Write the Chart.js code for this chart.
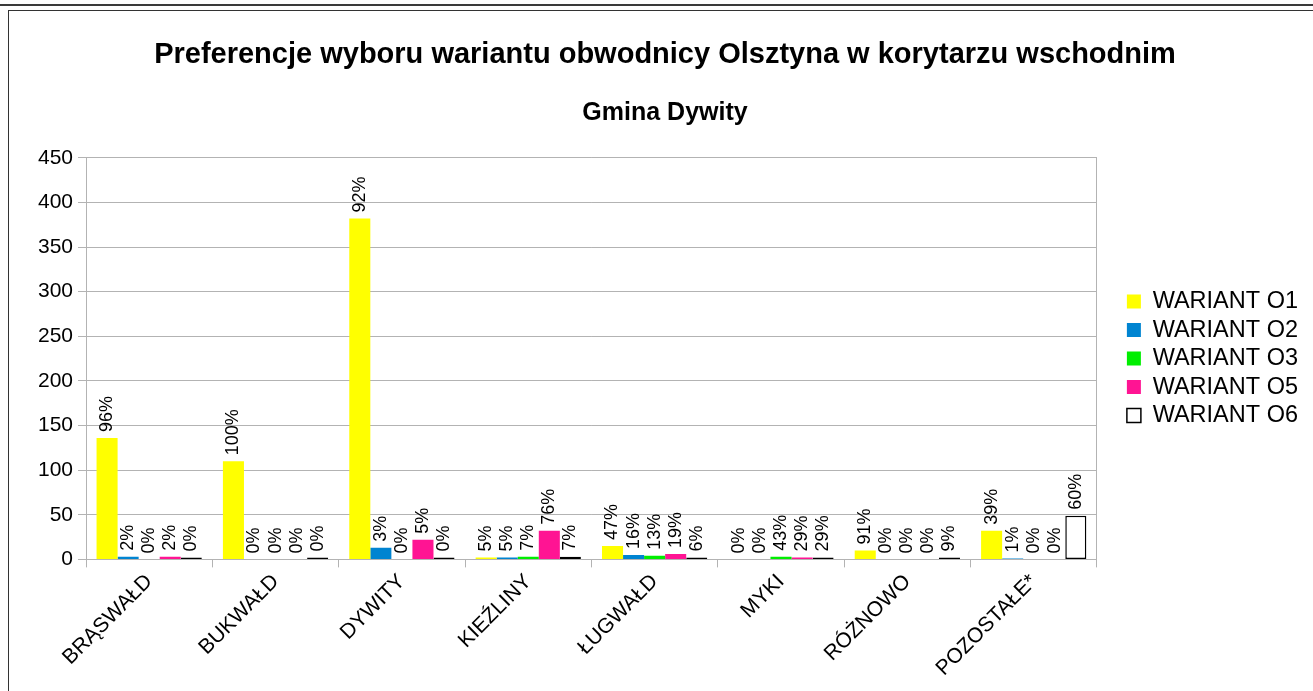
<!DOCTYPE html>
<html>
<head>
<meta charset="utf-8">
<script src="https://cdn.jsdelivr.net/npm/chart.js@4.4.1/dist/chart.umd.min.js"></script>
<style>
  body { margin: 0; background: #fff; overflow: hidden; width: 1313px; height: 691px; position: relative; }
  .rule { position: absolute; left: 0; top: 4px; width: 1313px; height: 2px; background: #3a3a3a; }
  .frame { position: absolute; left: 8px; top: 10px; width: 1320px; height: 700px; border-left: 1.5px solid #333; border-top: 1.5px solid #333; }
  .wrap { position: absolute; left: 10px; top: 12px; width: 1310px; height: 679px; }
</style>
</head>
<body>
<div class="rule"></div>
<div class="frame"></div>
<div class="wrap"><canvas id="chart"></canvas></div>
<script>
const categories = ["BRĄSWAŁD", "BUKWAŁD", "DYWITY", "KIEŹLINY", "ŁUGWAŁD", "MYKI", "RÓŻNOWO", "POZOSTAŁE*"];
const wariantO1 = [136, 110, 382, 2, 15, 0, 10, 32];
const wariantO2 = [3, 0, 13, 2, 5, 0, 0, 1];
const wariantO3 = [0, 0, 0, 3, 4, 3, 0, 0];
const wariantO5 = [3, 0, 22, 32, 6, 2, 0, 0];
const wariantO6 = [0, 0, 0, 3, 2, 2, 1, 49];
const yTicks = [0, 50, 100, 150, 200, 250, 300, 350, 400, 450];

const series = [wariantO1, wariantO2, wariantO3, wariantO5, wariantO6];
const totals = categories.map((c, i) => series.reduce((s, arr) => s + arr[i], 0));

// procenty nad słupkami, obrócone pionowo
const percentLabels = {
  id: "percentLabels",
  afterDatasetsDraw(chart) {
    const ctx = chart.ctx;
    ctx.save();
    ctx.fillStyle = "#000";
    ctx.font = "18px 'Liberation Sans', Arial, sans-serif";
    ctx.textAlign = "left";
    ctx.textBaseline = "middle";
    chart.data.datasets.forEach((ds, d) => {
      const meta = chart.getDatasetMeta(d);
      meta.data.forEach((bar, i) => {
        const pct = totals[i] ? Math.round((ds.data[i] / totals[i]) * 100) : 0;
        ctx.save();
        ctx.translate(bar.x, bar.y - 6);
        ctx.rotate(-Math.PI / 2);
        ctx.fillText(pct + "%", 0, 0);
        ctx.restore();
      });
    });
    ctx.restore();
  },
};

const font = "'Liberation Sans', Arial, sans-serif";
const gridColor = "#b3b3b3";

new Chart(document.getElementById("chart"), {
  type: "bar",
  data: {
    labels: categories,
    datasets: [
      { label: "WARIANT O1", data: wariantO1, backgroundColor: "#ffff00", borderWidth: 0 },
      { label: "WARIANT O2", data: wariantO2, backgroundColor: "#0084d1", borderWidth: 0 },
      { label: "WARIANT O3", data: wariantO3, backgroundColor: "#00ee00", borderWidth: 0 },
      { label: "WARIANT O5", data: wariantO5, backgroundColor: "#ff1493", borderWidth: 0 },
      {
        label: "WARIANT O6",
        data: wariantO6,
        backgroundColor: "#ffffff",
        borderColor: "#000000",
        borderWidth: 1.5,
        borderSkipped: false,
        minBarLength: 2,
      },
    ],
  },
  options: {
    responsive: true,
    maintainAspectRatio: false,
    animation: false,
    categoryPercentage: 0.833,
    barPercentage: 1,
    layout: { padding: { left: 12, right: 12, bottom: 8, top: 0 } },
    plugins: {
      title: {
        display: true,
        text: "Preferencje wyboru wariantu obwodnicy Olsztyna w korytarzu wschodnim",
        color: "#000",
        font: { family: font, size: 29, weight: "bold" },
        padding: { top: 26, bottom: 25 },
      },
      subtitle: {
        display: true,
        text: "Gmina Dywity",
        color: "#000",
        font: { family: font, size: 25, weight: "bold" },
        padding: { top: 0, bottom: 30 },
      },
      legend: {
        position: "right",
        fullSize: false,
        labels: {
          color: "#000",
          boxWidth: 14,
          boxHeight: 14,
          padding: 5,
          font: { family: font, size: 23.5 },
        },
      },
      tooltip: { enabled: false },
    },
    scales: {
      x: {
        grid: {
          drawOnChartArea: false,
          tickLength: 8,
          tickColor: gridColor,
        },
        border: { color: gridColor },
        ticks: {
          color: "#000",
          font: { family: font, size: 21 },
          maxRotation: 45,
          minRotation: 45,
          padding: 2,
        },
      },
      y: {
        min: 0,
        max: 450,
        afterBuildTicks: (axis) => {
          axis.ticks = yTicks.map((v) => ({ value: v }));
        },
        afterFit: (axis) => {
          axis.width = 64;
        },
        grid: { color: gridColor, tickLength: 8 },
        border: { color: gridColor },
        ticks: {
          color: "#000",
          font: { family: font, size: 21 },
          padding: 5,
        },
      },
      y2: {
        position: "right",
        min: 0,
        max: 450,
        afterFit: (axis) => {
          axis.width = 25;
        },
        grid: { drawOnChartArea: false, drawTicks: false },
        border: { color: gridColor },
        ticks: { display: false },
      },
    },
  },
  plugins: [percentLabels],
});
</script>
</body>
</html>
